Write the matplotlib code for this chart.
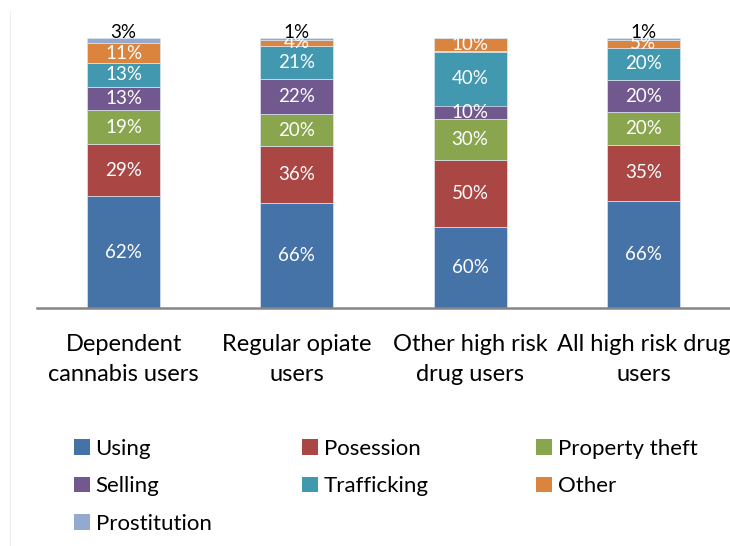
import numpy as np
import matplotlib
matplotlib.use("Agg")
import matplotlib.pyplot as plt
from matplotlib.patches import Patch
from matplotlib.lines import Line2D

plt.rcParams['font.family'] = ['Lato', 'DejaVu Sans']

# data (raw percentages as labelled, bars are drawn as 100% stacked)
groups = ['Dependent\ncannabis users', 'Regular opiate\nusers',
          'Other high risk\ndrug users', 'All high risk drug\nusers']
series = ['Using', 'Posession', 'Property theft', 'Selling',
          'Trafficking', 'Other', 'Prostitution']
using = [62, 66, 60, 66]
posession = [29, 36, 50, 35]
property_theft = [19, 20, 30, 20]
selling = [13, 22, 10, 20]
trafficking = [13, 21, 40, 20]
other = [11, 4, 10, 5]
prostitution = [3, 1, 0, 1]

colors = ['#4572A7', '#AA4643', '#89A54E', '#71588F',
          '#4198AF', '#DB843D', '#93A9CF']

vals = np.array([using, posession, property_theft, selling,
                 trafficking, other, prostitution], dtype=float)
frac = vals / vals.sum(axis=0)

W, H = 730, 546
fig = plt.figure(figsize=(W / 100, H / 100), dpi=100)
ax = fig.add_axes([37 / W, 1 - 308 / H, (730 - 37) / W, 270 / H])

x = np.arange(len(groups))
bottom = np.zeros(len(groups))
for k in range(len(series)):
    ax.bar(x, frac[k], 0.42, bottom=bottom, color=colors[k],
           edgecolor='#dde4ee', linewidth=0.5, label=series[k])
    for i in range(len(groups)):
        if vals[k, i] <= 0:
            continue
        lab = '%d%%' % vals[k, i]
        if series[k] == 'Prostitution':
            ax.annotate(lab, (x[i], bottom[i] + frac[k, i]), xytext=(0, 4),
                        textcoords='offset points', ha='center', va='center',
                        fontsize=13.5, color='black', annotation_clip=False)
        else:
            ax.text(x[i], bottom[i] + frac[k, i] / 2, lab, ha='center',
                    va='center', fontsize=13.5, color='white')
    bottom += frac[k]

ax.set_xlim(-0.5, len(groups) - 0.5)
ax.set_ylim(0, 1)
ax.set_yticks([])
ax.set_xticks(x)
ax.set_xticklabels(groups, fontsize=17, linespacing=1.52)
ax.tick_params(axis='x', length=0, pad=19)
for s in ['top', 'right', 'left']:
    ax.spines[s].set_visible(False)
ax.spines['bottom'].set_color('#868686')
ax.spines['bottom'].set_linewidth(1.8)

# legend laid out row by row in three columns, like the original
handles = [Patch(facecolor=c, edgecolor='none') for c in colors]
cols = [[0, 3, 6], [1, 4], [2, 5]]
col_x = [74, 302, 536]
for xs, idx in zip(col_x, cols):
    fig.legend([handles[j] for j in idx], [series[j] for j in idx],
               loc='upper left', bbox_to_anchor=(xs / W, 1 - 439 / H),
               frameon=False, fontsize=16, handlelength=0.72,
               handleheight=0.72, handletextpad=0.25, labelspacing=0.78,
               borderpad=0, borderaxespad=0)

# faint chart-area border on the left
fig.add_artist(Line2D([10 / W, 10 / W], [0, 1 - 11 / H], color='#eeeeee',
                      linewidth=0.8))

fig.savefig('out.png', dpi=100)
